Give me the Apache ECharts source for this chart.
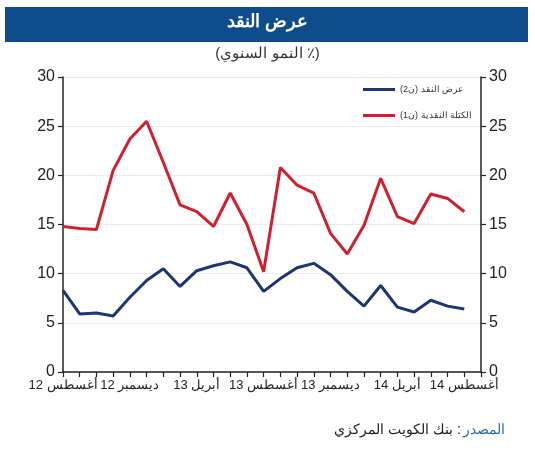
<!DOCTYPE html>
<html dir="rtl">
<head>
<meta charset="utf-8">
<script src="https://cdn.jsdelivr.net/npm/echarts@6/dist/echarts.min.js"></script>
<style>
html,body{margin:0;padding:0;background:#fff;}
#c{width:535px;height:450px;}
</style>
</head>
<body>
<div id="c"></div>
<script>
var categories = ["أغسطس 12","سبتمبر 12","أكتوبر 12","نوفمبر 12","ديسمبر 12","يناير 13","فبراير 13","مارس 13","أبريل 13","مايو 13","يونيو 13","يوليو 13","أغسطس 13","سبتمبر 13","أكتوبر 13","نوفمبر 13","ديسمبر 13","يناير 14","فبراير 14","مارس 14","أبريل 14","مايو 14","يونيو 14","يوليو 14","أغسطس 14","سبتمبر 14"];
var m2Values = [8.3,5.9,6.0,5.7,7.6,9.3,10.5,8.7,10.3,10.8,11.2,10.6,8.2,9.5,10.6,11.05,9.9,8.2,6.7,8.8,6.6,6.1,7.3,6.7,6.4];
var m1Values = [14.8,14.6,14.5,20.5,23.7,25.5,21.3,17.0,16.3,14.8,18.2,15.0,10.2,20.8,19.0,18.2,14.1,12.0,14.9,19.7,15.8,15.1,18.1,17.65,16.3];
var yTicks = [0,5,10,15,20,25,30];
var seriesNames = ["عرض النقد (ن2)","الكتلة النقدية (ن1)"];
var titleText = "عرض النقد";
var subtitleText = "(٪ النمو السنوي)";
var sourceLabel = "المصدر";
var sourceText = "بنك الكويت المركزي";

var chart = echarts.init(document.getElementById('c'), null, {renderer:'canvas'});
var font = 'Liberation Sans, Arial, sans-serif';
var yAxisBase = {
  type:'value', min:yTicks[0], max:yTicks[yTicks.length-1], interval:5,
  axisLine:{show:true, lineStyle:{color:'#222', width:1.5}},
  axisTick:{show:true, inside:false, length:5, lineStyle:{color:'#222', width:1.2}},
  axisLabel:{color:'#222', fontSize:16, fontFamily:font, margin:8}
};
chart.setOption({
  animation:false,
  graphic:[
    {type:'rect', left:5, top:7, shape:{width:523, height:35}, style:{fill:'#0F4C8C'}},
    {type:'text', left:'center', top:13, style:{text:titleText, fill:'#fff', font:'bold 18px '+font}},
    {type:'text', left:'center', top:46, style:{text:subtitleText, fill:'#333', font:'15px '+font}},
    {type:'text', right:30, top:423, style:{
      text:'{t|'+sourceText+'}{c|:}{s|'+sourceLabel+'}',
      rich:{
        t:{fill:'#222', font:'14px '+font, padding:[0,4,0,0]},
        c:{fill:'#222', font:'14px '+font, padding:[0,2,0,0]},
        s:{fill:'#2A6BB0', font:'14px '+font}
      }
    }}
  ],
  grid:{left:63, right:54, top:77, bottom:78, containLabel:false},
  legend:{
    orient:'vertical', left:358, top:80, itemGap:17,
    itemWidth:32, itemHeight:3, icon:'rect',
    textStyle:{fontSize:9, color:'#333', fontFamily:font},
    data:seriesNames
  },
  xAxis:{
    type:'category', data:categories, boundaryGap:false,
    axisLine:{lineStyle:{color:'#222', width:1.5}},
    axisTick:{show:true, inside:false, length:5, interval:0, lineStyle:{color:'#222', width:1.2}},
    axisLabel:{interval:3, color:'#222', fontSize:13, fontFamily:font, margin:7},
    splitLine:{show:false}
  },
  yAxis:[
    Object.assign({}, yAxisBase, {position:'left', splitLine:{show:true, lineStyle:{color:'#ececec', width:1}}}),
    Object.assign({}, yAxisBase, {position:'right', splitLine:{show:false}})
  ],
  series:[
    {name:seriesNames[0], type:'line', data:m2Values, showSymbol:false, symbol:'none',
     lineStyle:{color:'#1F3572', width:3}, itemStyle:{color:'#1F3572'}},
    {name:seriesNames[1], type:'line', data:m1Values, showSymbol:false, symbol:'none',
     lineStyle:{color:'#D0202F', width:3}, itemStyle:{color:'#D0202F'}}
  ]
});
</script>
</body>
</html>
